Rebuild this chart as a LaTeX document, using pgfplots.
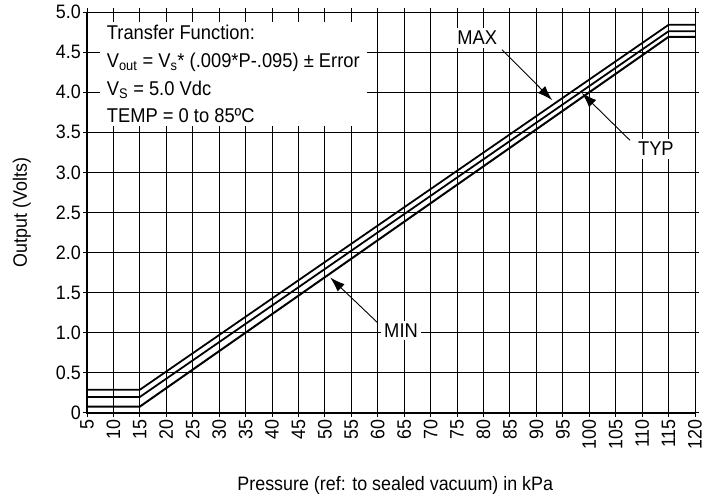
\documentclass[border=0pt]{standalone}
\usepackage{pgfplots}
\pgfplotsset{compat=1.18}
\usepackage{fontspec}
\setmainfont[FakeStretch=0.92]{Liberation Sans}
\usetikzlibrary{arrows.meta}

\begin{document}
\begin{tikzpicture}
\begin{axis}[
    scale only axis,
    width=608bp, height=401bp,
    xmin=5, xmax=120, ymin=0, ymax=5,
    xtick={5,10,...,120},
    ytick={0,0.5,...,5},
    yticklabels={0,0.5,1.0,1.5,2.0,2.5,3.0,3.5,4.0,4.5,5.0},
    /pgf/number format/assume math mode=true,
    xticklabel style={rotate=90, anchor=east, font=\fontsize{19.5}{19.5}\selectfont, inner sep=2pt},
    yticklabel style={font=\fontsize{19.5}{19.5}\selectfont, inner sep=2pt},
    grid=major,
    major grid style={black, line width=1pt},
    axis line style={black, line width=1pt},
    tick style={black, line width=1pt},
    tick align=outside,
    major tick length=4bp,
    xlabel={Pressure (ref: to sealed vacuum) in kPa},
    ylabel={Output (Volts)},
    label style={font=\fontsize{19.5}{19.5}\selectfont},
    xlabel style={at={(axis description cs:0.507,-0.18)}, anchor=center},
    ylabel style={at={(axis description cs:-0.107,0.5)}, anchor=center},
    clip=false,
]
% MAX
\addplot[black, line width=1.8pt] coordinates {(5,0.29) (15,0.29) (115,4.84) (120,4.84)};
% TYP
\addplot[black, line width=1.8pt] coordinates {(5,0.20) (15,0.20) (115,4.76) (120,4.76)};
% MIN
\addplot[black, line width=2pt] coordinates {(5,0.08) (15,0.08) (115,4.69) (120,4.69)};

% transfer function box
\node[fill=white, anchor=north west, align=left, inner xsep=7bp, inner ysep=3bp,
      font=\fontsize{20}{28}\selectfont]
  at (axis cs:7.4,4.88) {Transfer Function:\\
  V\textsubscript{out} = V\textsubscript{s}* (.009*P-.095) ± Error\\
  V\textsubscript{S} = 5.0 Vdc\\
  TEMP = 0 to 85ºC};

% annotations
\draw[-{Latex[length=15bp,width=10bp]}, line width=0.9pt] (axis cs:83.5,4.53) -- (axis cs:93.0,3.90);
\node[fill=white, font=\fontsize{20}{20}\selectfont, inner sep=3bp] at (axis cs:78.8,4.68) {MAX};
\draw[-{Latex[length=15bp,width=10bp]}, line width=0.9pt] (axis cs:107.7,3.40) -- (axis cs:98.6,3.99);
\node[fill=white, font=\fontsize{20}{20}\selectfont, inner sep=3bp] at (axis cs:112.6,3.29) {TYP};
\draw[-{Latex[length=15bp,width=10bp]}, line width=0.9pt] (axis cs:59.9,1.13) -- (axis cs:51.0,1.69);
\node[fill=white, font=\fontsize{20}{20}\selectfont, inner sep=3bp] at (axis cs:64.4,1.03) {MIN};

% heavy left and bottom frame
\draw[black, line width=2.6pt] (rel axis cs:0,1) -- (rel axis cs:0,0) -- (rel axis cs:1,0);
% page margins as in the original
\path (rel axis cs:0,0) ++(-87bp,-84bp);
\path (rel axis cs:1,1) ++(22bp,12bp);
\end{axis}
\end{tikzpicture}
\end{document}
